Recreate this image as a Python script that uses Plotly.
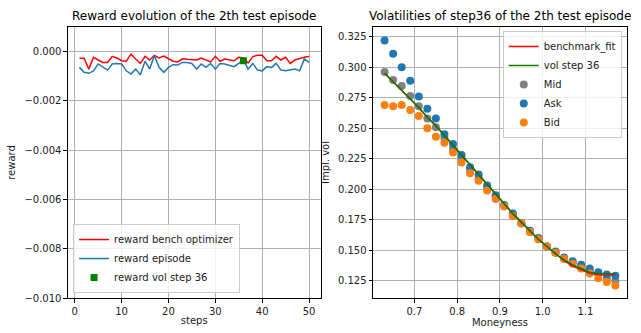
import plotly.graph_objects as go

# ── Dados: painel esquerdo (recompensas) ──────────────────────────────────────
steps = list(range(1, 51))
reward_bench = [
    -0.00027, -0.00027, -0.00071, -0.00023, -0.00034, -0.00044, -0.00044, -0.00019, -0.00026, -0.00037,
    -0.00039, -0.00010, -0.00030, -0.00048, -0.00019, -0.00034, -0.00015, -0.00026, -0.00018, -0.00030,
    -0.00039, -0.00042, -0.00029, -0.00031, -0.00033, -0.00034, -0.00026, -0.00033, -0.00042, -0.00019,
    -0.00039, -0.00030, -0.00033, -0.00037, -0.00023, -0.00026, -0.00046, -0.00020, -0.00015, -0.00015,
    -0.00037, -0.00037, -0.00019, -0.00034, -0.00023, -0.00048, -0.00034, -0.00027, -0.00023, -0.00020,
]
reward_episode = [
    -0.00064, -0.00084, -0.00088, -0.00078, -0.00050, -0.00061, -0.00075, -0.00050, -0.00048, -0.00050,
    -0.00078, -0.00091, -0.00071, -0.00094, -0.00039, -0.00071, -0.00016, -0.00064, -0.00084, -0.00064,
    -0.00053, -0.00054, -0.00044, -0.00044, -0.00048, -0.00071, -0.00050, -0.00064, -0.00048, -0.00071,
    -0.00048, -0.00050, -0.00057, -0.00061, -0.00048, -0.00034, -0.00071, -0.00048, -0.00075, -0.00078,
    -0.00061, -0.00064, -0.00048, -0.00075, -0.00078, -0.00075, -0.00071, -0.00078, -0.00030, -0.00044,
]
vol_step = [36]
vol_step_reward = [-0.00037]

# ── Dados: painel direito (volatilidades) ─────────────────────────────────────
moneyness = [round(0.63 + 0.02 * i, 2) for i in range(28)]
vol_ask = [0.322, 0.311, 0.300, 0.289, 0.276, 0.266, 0.258, 0.245, 0.237, 0.228,
           0.218, 0.212, 0.203, 0.195, 0.187, 0.180, 0.172, 0.166, 0.160, 0.153,
           0.149, 0.144, 0.141, 0.138, 0.135, 0.132, 0.130, 0.129]
vol_bid = [0.269, 0.268, 0.269, 0.265, 0.260, 0.250, 0.243, 0.238, 0.230, 0.222,
           0.213, 0.207, 0.199, 0.192, 0.186, 0.178, 0.172, 0.165, 0.159, 0.153,
           0.148, 0.143, 0.139, 0.135, 0.131, 0.127, 0.124, 0.121]
vol_mid = [0.296, 0.2895, 0.2846, 0.2764, 0.268, 0.258, 0.2507, 0.242, 0.233, 0.225,
           0.216, 0.209, 0.201, 0.194, 0.186, 0.179, 0.172, 0.165, 0.159, 0.153,
           0.148, 0.143, 0.140, 0.136, 0.133, 0.130, 0.127, 0.125]
vol_fit36 = [0.295, 0.288, 0.281, 0.274, 0.267, 0.259, 0.252, 0.244, 0.236, 0.228,
             0.220, 0.212, 0.204, 0.196, 0.188, 0.180, 0.173, 0.166, 0.159, 0.153,
             0.147, 0.142, 0.138, 0.135, 0.132, 0.131, 0.1305, 0.1305]
vol_bench = [0.295, 0.288, 0.281, 0.274, 0.267, 0.259, 0.252, 0.244, 0.236, 0.228,
             0.220, 0.212, 0.204, 0.196, 0.188, 0.180, 0.173, 0.166, 0.159, 0.153,
             0.147, 0.1415, 0.137, 0.134, 0.131, 0.1298, 0.1296, 0.1296]

FONT = "DejaVu Sans"
TXT = "#222222"
GRID = "#b0b0b0"

fig = go.Figure()

# ── Painel esquerdo ───────────────────────────────────────────────────────────
fig.add_trace(go.Scatter(
    x=steps, y=reward_bench, mode="lines", line=dict(color="#ff0000", width=1.5),
    name="reward bench optimizer", xaxis="x", yaxis="y", legend="legend",
))
fig.add_trace(go.Scatter(
    x=steps, y=reward_episode, mode="lines", line=dict(color="#1f77b4", width=1.5),
    name="reward episode", xaxis="x", yaxis="y", legend="legend",
))
fig.add_trace(go.Scatter(
    x=vol_step, y=vol_step_reward, mode="markers",
    marker=dict(symbol="square", color="#008000", size=7),
    name="reward vol step 36", xaxis="x", yaxis="y", legend="legend",
))

# ── Painel direito ────────────────────────────────────────────────────────────
for name, vals, col, rank in [("Mid", vol_mid, "#808080", 3),
                              ("Ask", vol_ask, "#1f77b4", 4),
                              ("Bid", vol_bid, "#ff7f0e", 5)]:
    fig.add_trace(go.Scatter(
        x=moneyness, y=vals, mode="markers", marker=dict(color=col, size=8),
        name=name, xaxis="x2", yaxis="y2", legend="legend2", legendrank=rank,
    ))
fig.add_trace(go.Scatter(
    x=moneyness, y=vol_bench, mode="lines", line=dict(color="#ff0000", width=1.5),
    name="benchmark_fit", xaxis="x2", yaxis="y2", legend="legend2", legendrank=1,
))
fig.add_trace(go.Scatter(
    x=moneyness, y=vol_fit36, mode="lines", line=dict(color="#008000", width=1.5),
    name="vol step 36", xaxis="x2", yaxis="y2", legend="legend2", legendrank=2,
))

axis_common = dict(
    showline=True, linecolor="black", linewidth=1, mirror=True,
    showgrid=True, gridcolor=GRID, gridwidth=0.8, zeroline=False,
    ticks="outside", ticklen=3.5, tickcolor="black", tickwidth=0.8,
    tickfont=dict(family=FONT, size=10, color=TXT), automargin=False,
)
title_font = dict(family=FONT, size=10, color=TXT)

fig.update_layout(
    width=641, height=333,
    margin=dict(l=0, r=0, t=0, b=0),
    paper_bgcolor="white", plot_bgcolor="white",
    font=dict(family=FONT, size=10, color=TXT),
    xaxis=dict(domain=[0.106, 0.500], range=[-1.45, 52.45], tickvals=[0, 10, 20, 30, 40, 50],
               title=dict(text="steps", font=title_font, standoff=1), **axis_common),
    yaxis=dict(domain=[0.105, 0.919], range=[-0.010, 0.001],
               tickvals=[-0.010, -0.008, -0.006, -0.004, -0.002, 0.0], tickformat=".3f",
               title=dict(text="reward", font=title_font, standoff=6), **axis_common),
    xaxis2=dict(domain=[0.582, 0.978], range=[0.603, 1.197], tickvals=[0.7, 0.8, 0.9, 1.0, 1.1],
                tickformat=".1f", anchor="y2",
                title=dict(text="Moneyness", font=title_font, standoff=1), **axis_common),
    yaxis2=dict(domain=[0.105, 0.919], range=[0.1108, 0.333], anchor="x2",
                tickvals=[0.125, 0.15, 0.175, 0.2, 0.225, 0.25, 0.275, 0.3, 0.325], tickformat=".3f",
                title=dict(text="Impl. vol", font=title_font, standoff=6), **axis_common),
    legend=dict(
        x=0.114, y=0.12, xanchor="left", yanchor="bottom",
        bgcolor="rgba(255,255,255,0.8)", bordercolor="#cccccc", borderwidth=1,
        font=dict(family=FONT, size=10, color=TXT), tracegroupgap=0, itemwidth=30,
    ),
    legend2=dict(
        x=0.970, y=0.907, xanchor="right", yanchor="top",
        bgcolor="rgba(255,255,255,0.8)", bordercolor="#cccccc", borderwidth=1,
        font=dict(family=FONT, size=10, color=TXT), tracegroupgap=0, itemwidth=30,
    ),
    annotations=[
        dict(text="Reward evolution of the 2th test episode", x=0.303, y=0.925,
             xref="paper", yref="paper", xanchor="center", yanchor="bottom",
             showarrow=False, font=dict(family=FONT, size=12, color="black")),
        dict(text="Volatilities of step36 of the 2th test episode", x=0.780, y=0.925,
             xref="paper", yref="paper", xanchor="center", yanchor="bottom",
             showarrow=False, font=dict(family=FONT, size=12, color="black")),
    ],
)

# a página tem margem padrão de 8px no body; zera para a figura caber na janela
fig.write_html("out.html", config={"displayModeBar": False},
               post_script="document.body.style.margin='0';")
